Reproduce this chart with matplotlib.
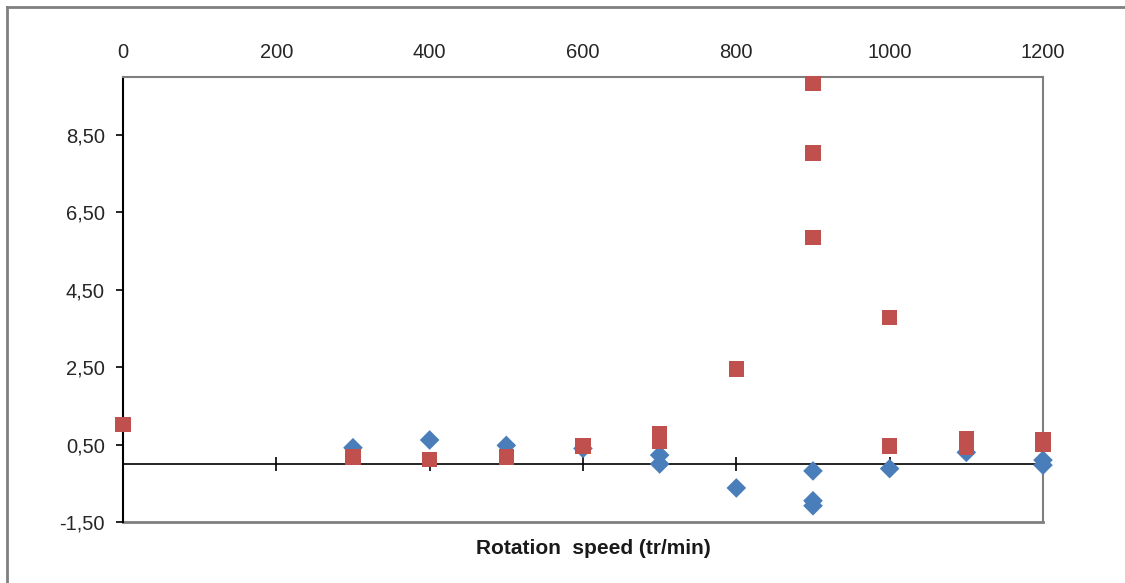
import matplotlib
matplotlib.use("Agg")
import matplotlib.pyplot as plt
from matplotlib.lines import Line2D
from matplotlib.ticker import FuncFormatter

# Serie 1 (losangos azuis)
speed_blue = [300, 400, 500, 600, 700, 700, 800, 900, 900, 900, 1000, 1100, 1200, 1200]
value_blue = [0.42, 0.62, 0.48, 0.40, 0.23, 0.00, -0.62, -0.18, -0.95, -1.08, -0.12, 0.30, 0.10, -0.03]

# Serie 2 (quadrados vermelhos)
speed_red = [0, 300, 400, 500, 600, 700, 700, 800, 900, 900, 900, 1000, 1000, 1100, 1100, 1200, 1200]
value_red = [1.02, 0.18, 0.12, 0.18, 0.46, 0.77, 0.59, 2.45, 9.83, 8.03, 5.85, 3.79, 0.46, 0.65, 0.42, 0.62, 0.52]

x_ticks = [0, 200, 400, 600, 800, 1000, 1200]
y_ticks = [-1.5, 0.5, 2.5, 4.5, 6.5, 8.5]

plt.rcParams['font.family'] = ['Liberation Sans', 'DejaVu Sans']

fig = plt.figure(figsize=(11.25, 5.83), dpi=100)
ax = fig.add_axes([0.1093, 0.1046, 0.8178, 0.7633])

ax.scatter(speed_blue, value_blue, marker='D', s=100, color='#4a7ebb',
           edgecolors='none', zorder=3, clip_on=False)
ax.scatter(speed_red, value_red, marker='s', s=125, color='#c0504d',
           edgecolors='none', zorder=4, clip_on=False)

ax.set_xlim(0, 1200)
ax.set_ylim(-1.5, 10)

# eixo horizontal passa pelo zero, rótulos ficam em cima
ax.spines['bottom'].set_position(('data', 0))
ax.spines['bottom'].set_color('black')
ax.spines['bottom'].set_linewidth(1.2)
ax.spines['left'].set_color('black')
ax.spines['left'].set_linewidth(1.5)
for side in ['top', 'right']:
    ax.spines[side].set_color('#7f7f7f')
    ax.spines[side].set_linewidth(1.5)
ax.axhline(-1.5, color='#7f7f7f', lw=2.0, zorder=2, clip_on=False)

ax.set_xticks(x_ticks)
ax.tick_params(axis='x', bottom=True, top=False, labelbottom=False, labeltop=True,
               direction='inout', length=10, width=1.2, pad=6,
               labelsize=14.5, labelcolor='#262626')
ax.set_yticks(y_ticks)
ax.yaxis.set_major_formatter(FuncFormatter(lambda v, p: f"{v:.2f}".replace('.', ',')))
ax.tick_params(axis='y', direction='out', length=5, width=1.2, pad=8,
               labelsize=14.5, labelcolor='#262626')

fig.text(0.527, 1 - 549 / 583, "Rotation  speed (tr/min)", ha='center', va='center',
         fontsize=15, fontweight='bold', color='#1a1a1a')

# moldura externa
fig.add_artist(Line2D([7 / 1125, 7 / 1125], [0, 1 - 7 / 583], color='#808080', lw=2))
fig.add_artist(Line2D([7 / 1125, 1], [1 - 7 / 583, 1 - 7 / 583], color='#808080', lw=2))

fig.savefig('out.png', dpi=100)
